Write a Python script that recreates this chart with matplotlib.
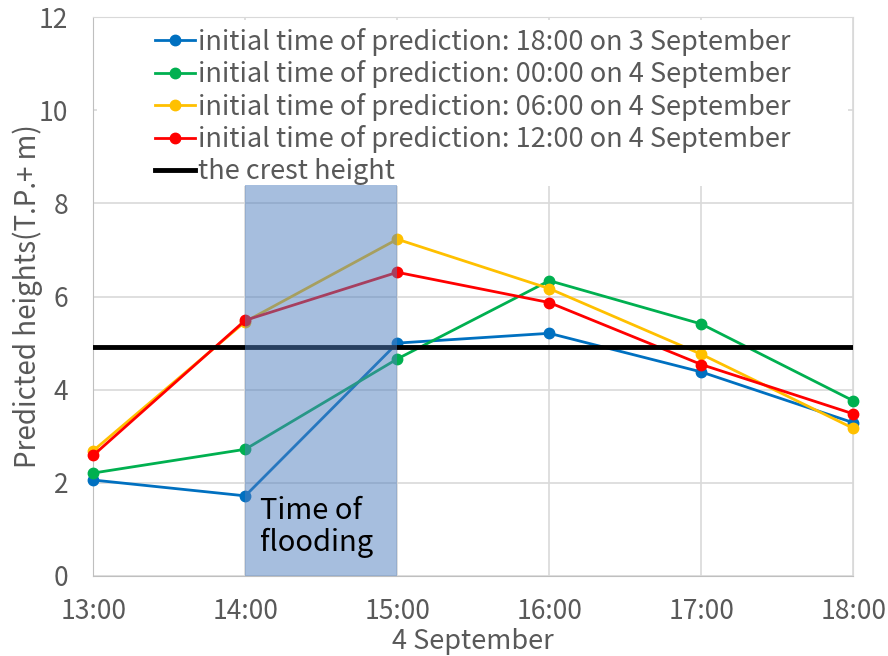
import matplotlib.pyplot as plt
from matplotlib.patches import Rectangle

plt.rcParams['font.family'] = ['Noto Sans CJK JP', 'DejaVu Sans']

hours = [13, 14, 15, 16, 17, 18]
hour_labels = ["13:00", "14:00", "15:00", "16:00", "17:00", "18:00"]

run_0318 = [2.06, 1.72, 5.00, 5.21, 4.38, 3.29]
run_0400 = [2.21, 2.72, 4.66, 6.34, 5.41, 3.76]
run_0406 = [2.69, 5.46, 7.23, 6.17, 4.76, 3.17]
run_0412 = [2.59, 5.49, 6.52, 5.87, 4.54, 3.48]
crest_height = 4.92

flood_start, flood_end, flood_top = 14, 15, 8.4

series = [
    ("initial time of prediction: 18:00 on 3 September", run_0318, "#0070C0"),
    ("initial time of prediction: 00:00 on 4 September", run_0400, "#00B050"),
    ("initial time of prediction: 06:00 on 4 September", run_0406, "#FFC000"),
    ("initial time of prediction: 12:00 on 4 September", run_0412, "#FF0000"),
]

fig = plt.figure(figsize=(8.88, 6.56), dpi=100)
ax = fig.add_axes([0.105, 0.122, 0.856, 0.852])

for label, vals, col in series:
    ax.plot(hours, vals, color=col, lw=2, marker="o", ms=7.5, label=label,
            clip_on=False, zorder=3)
ax.axhline(crest_height, color="black", lw=3.5, label="the crest height", zorder=3)

# flooding window
ax.add_patch(Rectangle((flood_start, 0), flood_end - flood_start, flood_top,
                       facecolor="#4F7FBF", alpha=0.5, edgecolor="none", zorder=4))
ax.text(14.1, 0.38, "Time of\nflooding", fontsize=21, color="black",
        va="bottom", ha="left", linespacing=1.1, zorder=5)

ax.set_xlim(13, 18)
ax.set_ylim(0, 12)
ax.set_xticks(hours)
ax.set_xticklabels(hour_labels)
ax.set_yticks(range(0, 13, 2))
ax.grid(True, color="#d9d9d9", lw=1.2)
ax.set_axisbelow(True)
ax.tick_params(length=0, labelsize=19, labelcolor="#595959")
ax.tick_params(axis="x", pad=16)
ax.tick_params(axis="y", pad=18)
for s in ax.spines.values():
    s.set_color("#d9d9d9")
ax.spines["left"].set_color("#bfbfbf")
ax.spines["bottom"].set_color("#bfbfbf")

ax.set_xlabel("4 September", fontsize=19.5, color="#595959", labelpad=2)
ax.set_ylabel("Predicted heights(T.P.+ m)", fontsize=20, color="#595959", labelpad=-3)

# white backing behind legend
ax.add_patch(Rectangle((0.005, 0.698), 0.988, 0.297, transform=ax.transAxes,
                       facecolor="white", edgecolor="none", zorder=2))
leg = ax.legend(loc="upper left", bbox_to_anchor=(0.081, 0.981), frameon=False,
                fontsize=19.5, labelcolor="#595959", handlelength=1.5,
                handletextpad=0.1, labelspacing=0.17, borderpad=0,
                borderaxespad=0)
leg.set_zorder(6)

fig.savefig("out.png", dpi=100)
